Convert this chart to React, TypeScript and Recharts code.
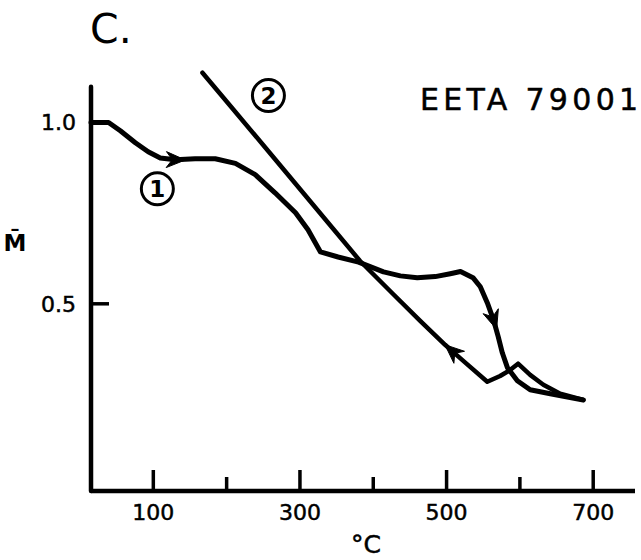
import { LineChart, Line, XAxis, YAxis, ReferenceLine, ReferenceDot } from "recharts";

// curve 1 (heating, runs left to right)
const heatTemp = [15, 39, 55, 75.5, 93, 109.5, 130, 157, 184.5, 212, 239, 266, 294, 311, 328, 352, 380, 414, 437, 460, 484.5, 505, 519, 536, 546, 555.5, 564, 570.5, 576, 583, 596.5, 614, 641.5, 686.5];
const heatM = [1.0, 1.0, 0.977, 0.944, 0.919, 0.902, 0.897, 0.9, 0.9, 0.887, 0.856, 0.806, 0.751, 0.704, 0.643, 0.629, 0.615, 0.588, 0.577, 0.572, 0.575, 0.583, 0.589, 0.572, 0.547, 0.503, 0.456, 0.409, 0.365, 0.324, 0.288, 0.263, 0.252, 0.235];
const heatArrows = [130, 564];

// curve 2 (cooling, runs right to left)
const coolTemp = [167, 202, 249, 294, 339, 382, 427, 464, 498, 508, 525.5, 555.5, 573, 587, 597.5, 614, 632, 655, 686.5];
const coolM = [1.137, 1.053, 0.94, 0.831, 0.722, 0.618, 0.527, 0.453, 0.387, 0.369, 0.338, 0.285, 0.301, 0.318, 0.335, 0.304, 0.277, 0.252, 0.235];
const coolArrows = [508];

const xTicks = [100, 200, 300, 400, 500, 600, 700];
const xLabelled = [100, 300, 500, 700];
const yTicks = [0.5, 1.0];

const curveLabels = ["1", "2"];
const curveLabelTemp = [105.5, 257];
const curveLabelM = [0.817, 1.074];

const X_DOMAIN = [15, 757];
const Y_DOMAIN = [-0.016, 1.15];
const Y_AXIS_TOP = 1.098;

const W = 641;
const H = 560;
const MARGIN = { top: 68, right: 6, left: 31, bottom: 39 };
const Y_WIDTH = 60;
const X_HEIGHT = 30;
const PLOT_W = W - MARGIN.left - MARGIN.right - Y_WIDTH;
const PLOT_H = H - MARGIN.top - MARGIN.bottom - X_HEIGHT;
const KX = PLOT_W / (X_DOMAIN[1] - X_DOMAIN[0]);
const KY = PLOT_H / (Y_DOMAIN[1] - Y_DOMAIN[0]);

const FONT = "'DejaVu Sans', sans-serif";
// slight outline so the lettering reads as heavy as the scanned original
const INK = { fill: "#000", stroke: "#000", strokeWidth: 0.5 };

const heat = heatTemp.map((t, i) => ({ t, m: heatM[i] }));
const cool = coolTemp.map((t, i) => ({ t, m: coolM[i] }));

// arrowhead drawn on the listed points, pointing along the direction of travel
function arrowDot(data: { t: number; m: number }[], arrows: number[], dir: number) {
  return (props: any) => {
    const { cx, cy, index, payload } = props;
    if (!arrows.includes(payload.t)) return <g key={`a-${index}`} />;
    const prev = data[Math.max(0, Math.min(data.length - 1, index - dir))];
    const next = data[Math.max(0, Math.min(data.length - 1, index + dir))];
    const dx = (next.t - prev.t) * KX;
    const dy = -(next.m - prev.m) * KY;
    const len = Math.hypot(dx, dy) || 1;
    const ux = dx / len;
    const uy = dy / len;
    const tip = [cx + ux * 10, cy + uy * 10];
    const bx = cx - ux * 9;
    const by = cy - uy * 9;
    const p1 = [bx - uy * 8, by + ux * 8];
    const p2 = [bx + uy * 8, by - ux * 8];
    return (
      <polygon
        key={`a-${index}`}
        points={`${tip[0]},${tip[1]} ${p1[0]},${p1[1]} ${cx - ux * 3},${cy - uy * 3} ${p2[0]},${p2[1]}`}
        fill="#000"
        stroke="#000"
        strokeWidth={1}
        strokeLinejoin="round"
      />
    );
  };
}

function XTick(props: any) {
  const { x, y, payload } = props;
  const major = xLabelled.includes(payload.value);
  return (
    <g>
      <line x1={x} y1={y} x2={x} y2={y - (major ? 21 : 14)} stroke="#000" strokeWidth={3.5} />
      {major && (
        <text x={x} y={y + 29} textAnchor="middle" fontFamily={FONT} fontSize={22} {...INK}>
          {payload.value}
        </text>
      )}
    </g>
  );
}

function YTick(props: any) {
  const { x, y, payload } = props;
  return (
    <g>
      <line x1={x} y1={y} x2={x + 18} y2={y} stroke="#000" strokeWidth={3.5} />
      <text x={x - 15} y={y + 8} textAnchor="end" fontFamily={FONT} fontSize={22} {...INK}>
        {payload.value.toFixed(1)}
      </text>
    </g>
  );
}

function CircledLabel(text: string) {
  return (props: any) => (
    <g>
      <circle cx={props.cx} cy={props.cy} r={16} fill="none" stroke="#000" strokeWidth={3} />
      <text x={props.cx} y={props.cy + 8} textAnchor="middle" fontFamily={FONT} fontWeight="bold" fontSize={23} fill="#000">
        {text}
      </text>
    </g>
  );
}

export default function App() {
  return (
    <div style={{ position: "absolute", left: 0, top: 0, width: W, height: H, background: "#fff" }}>
      <LineChart width={W} height={H} margin={MARGIN}>
        <XAxis
          dataKey="t"
          type="number"
          domain={X_DOMAIN}
          ticks={xTicks}
          interval={0}
          tickLine={false}
          tickSize={0}
          tickMargin={0}
          tick={<XTick />}
          height={X_HEIGHT}
          axisLine={{ stroke: "#000", strokeWidth: 4.5 }}
        />
        <YAxis
          type="number"
          domain={Y_DOMAIN}
          ticks={yTicks}
          interval={0}
          tickLine={false}
          tickSize={0}
          tickMargin={0}
          tick={<YTick />}
          width={Y_WIDTH}
          axisLine={false}
        />
        <ReferenceLine
          segment={[
            { x: X_DOMAIN[0], y: Y_DOMAIN[0] },
            { x: X_DOMAIN[0], y: Y_AXIS_TOP },
          ]}
          stroke="#000"
          strokeWidth={4.5}
          strokeLinecap="round"
        />
        <Line
          data={heat}
          dataKey="m"
          type="linear"
          stroke="#000"
          strokeWidth={5}
          strokeLinejoin="round"
          strokeLinecap="round"
          dot={arrowDot(heat, heatArrows, 1)}
          activeDot={false}
          isAnimationActive={false}
        />
        <Line
          data={cool}
          dataKey="m"
          type="linear"
          stroke="#000"
          strokeWidth={4.5}
          strokeLinejoin="round"
          strokeLinecap="round"
          dot={arrowDot(cool, coolArrows, -1)}
          activeDot={false}
          isAnimationActive={false}
        />
        {curveLabels.map((lab, i) => (
          <ReferenceDot
            key={lab}
            x={curveLabelTemp[i]}
            y={curveLabelM[i]}
            r={16}
            shape={CircledLabel(lab)}
          />
        ))}
      </LineChart>
      <svg width={W} height={H} style={{ position: "absolute", left: 0, top: 0, pointerEvents: "none" }}>
        <text x={90} y={43} fontFamily={FONT} fontSize={41} fill="#000">
          C.
        </text>
        <text x={420} y={110} fontFamily={FONT} fontSize={30} letterSpacing={4.3} {...INK}>
          EETA 79001
        </text>
        <text x={15} y={251} textAnchor="middle" fontFamily={FONT} fontWeight="bold" fontSize={23} fill="#000">
          M&#x0304;
        </text>
        <text x={366} y={553} textAnchor="middle" fontFamily={FONT} fontSize={25} {...INK}>
          °C
        </text>
      </svg>
    </div>
  );
}
